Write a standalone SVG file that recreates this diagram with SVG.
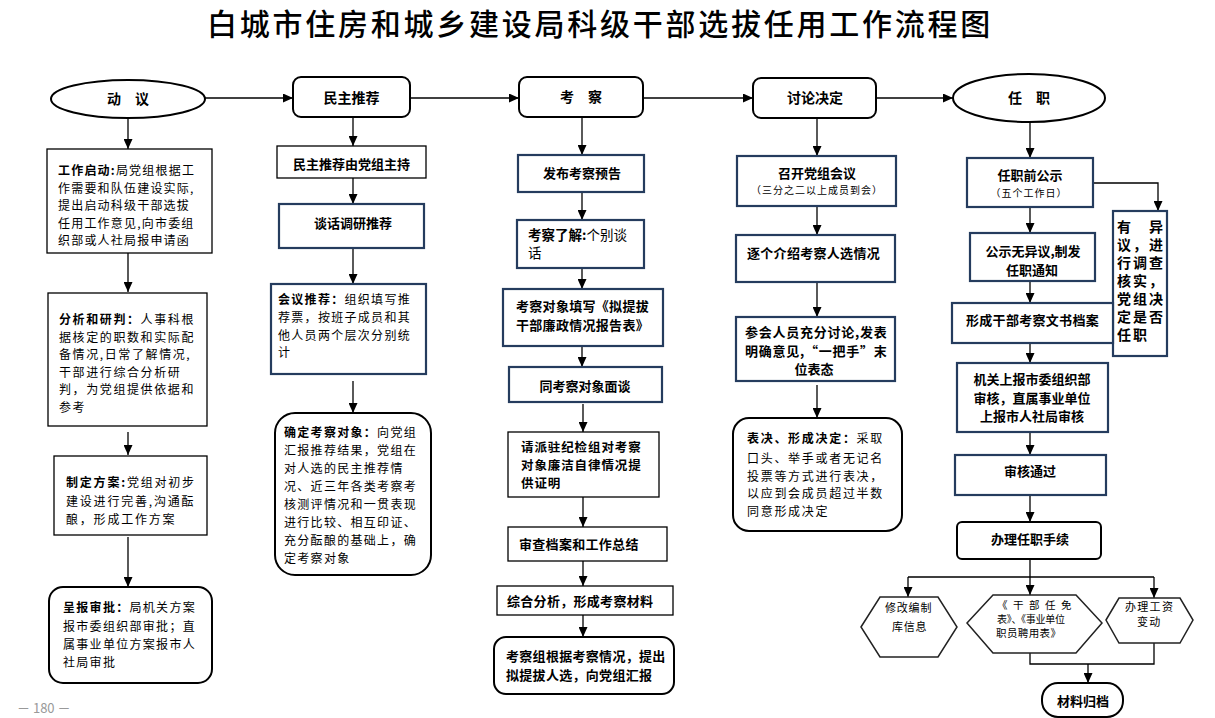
<svg xmlns="http://www.w3.org/2000/svg" width="1215" height="718" viewBox="0 0 1215 718">
<defs>
<marker id="ah" markerWidth="10" markerHeight="9" refX="10" refY="4.5" orient="auto" markerUnits="userSpaceOnUse"><path d="M0,0 L10,4.5 L0,9 z" fill="#000"/></marker>
<style>
text{font-family:'Noto Sans CJK SC','Noto Sans',sans-serif;fill:#000}
.title{font-size:30px;font-weight:500;letter-spacing:2.75px}
.h{font-size:14px;font-weight:700;text-anchor:middle}
.b{font-size:13px;font-weight:700;letter-spacing:0.3px}
.bc{font-size:13px;font-weight:700;text-anchor:middle}
.t{font-size:12px}
.s{font-size:10px;letter-spacing:1px;text-anchor:middle}
.bold{font-weight:700}
.thin{fill:#fff;stroke:#000;stroke-width:1.3}
.navy{fill:#fff;stroke:#253c5e;stroke-width:2.2}
.rnd{fill:#fff;stroke:#000;stroke-width:2}
.hex{fill:#fff;stroke:#222;stroke-width:1.5}
.con{fill:none;stroke:#000;stroke-width:1.3}
.arr{fill:none;stroke:#000;stroke-width:1.3;marker-end:url(#ah)}
</style>
</defs>
<rect width="1215" height="718" fill="#fff"/>
<text class="title" x="207" y="35">白城市住房和城乡建设局科级干部选拔任用工作流程图</text>

<g id="connectors">
<path class="arr" d="M205,98 H293"/>
<path class="arr" d="M410,98 H519"/>
<path class="arr" d="M643,98 H753"/>
<path class="arr" d="M876,98 H953"/>
<path class="arr" d="M128,118 V149"/>
<path class="arr" d="M128,253 V292"/>
<path class="arr" d="M128,432 V455"/>
<path class="arr" d="M128,537 V587"/>
<path class="arr" d="M353,117 V146"/>
<path class="arr" d="M353,178 V204"/>
<path class="arr" d="M353,248 V284"/>
<path class="arr" d="M353,381 V413"/>
<path class="arr" d="M582,117 V155"/>
<path class="arr" d="M582,192 V220"/>
<path class="arr" d="M582,268 V289"/>
<path class="arr" d="M582,346 V367"/>
<path class="arr" d="M583,404 V432"/>
<path class="arr" d="M583,497 V527"/>
<path class="arr" d="M583,561 V586"/>
<path class="arr" d="M583,615 V637"/>
<path class="arr" d="M817,118 V156"/>
<path class="arr" d="M817,206 V235"/>
<path class="arr" d="M817,282 V317"/>
<path class="arr" d="M817,385 V418"/>
<path class="arr" d="M1030,122 V158"/>
<path class="arr" d="M1093,183 H1158 V211"/>
<path class="arr" d="M1030,207 V233"/>
<path class="arr" d="M1030,281 V303"/>
<path class="arr" d="M1030,343 V363"/>
<path class="arr" d="M1030,432 V455"/>
<path class="arr" d="M1030,495 V522"/>
<path class="con" d="M1030,559 V577 M908,577 H1154"/>
<path class="arr" d="M908,577 V597"/>
<path class="arr" d="M1030,577 V595"/>
<path class="arr" d="M1154,577 V598"/>
<path class="con" d="M1030,653 V664 H1154 V643"/>
<path class="arr" d="M1088,664 V683"/>
</g>

<g id="n-dongyi"><ellipse cx="128" cy="99" rx="77" ry="19" class="rnd"/><text class="h" x="128" y="104">动　议</text></g>
<g id="n-minzhu"><rect x="293" y="77" width="117" height="40" rx="8" class="rnd"/><text class="h" x="351.5" y="103">民主推荐</text></g>
<g id="n-kaocha"><rect x="519" y="77" width="124" height="40" rx="8" class="rnd"/><text class="h" x="581" y="102">考　察</text></g>
<g id="n-taolun"><rect x="753" y="78" width="123" height="40" rx="8" class="rnd"/><text class="h" x="815" y="103">讨论决定</text></g>
<g id="n-renzhi"><ellipse cx="1029" cy="98" rx="76" ry="24" class="rnd"/><text class="h" x="1029" y="103">任　职</text></g>

<g id="n-c1-1"><rect x="47" y="149" width="165" height="104" class="thin"/>
<text class="t" x="58" style="letter-spacing:1.2px"><tspan y="175"><tspan class="bold">工作启动:</tspan>局党组根据工</tspan><tspan x="58" y="192.5">作需要和队伍建设实际,</tspan><tspan x="58" y="210">提出启动科级干部选拔</tspan><tspan x="58" y="227.5">任用工作意见,向市委组</tspan><tspan x="58" y="245">织部或人社局报申请函</tspan></text></g>

<g id="n-c1-2"><rect x="48" y="293" width="159" height="133" class="thin"/>
<text class="t" x="59" style="letter-spacing:1.6px"><tspan y="324"><tspan class="bold">分析和研判：</tspan>人事科根</tspan><tspan x="59" y="342">据核定的职数和实际配</tspan><tspan x="59" y="359">备情况,日常了解情况,</tspan><tspan x="59" y="377">干部进行综合分析研</tspan><tspan x="59" y="394">判，为党组提供依据和</tspan><tspan x="59" y="412">参考</tspan></text></g>

<g id="n-c1-3"><rect x="54" y="456" width="153" height="79" class="thin"/>
<text class="t" x="66" style="letter-spacing:1.8px"><tspan y="487"><tspan class="bold">制定方案:</tspan>党组对初步</tspan><tspan x="66" y="506">建设进行完善,沟通酝</tspan><tspan x="66" y="524">酿，形成工作方案</tspan></text></g>

<g id="n-c1-4"><rect x="49" y="587" width="163" height="96" rx="14" class="rnd"/>
<text class="t" x="63" style="letter-spacing:1.3px"><tspan y="612"><tspan class="bold">呈报审批：</tspan>局机关方案</tspan><tspan x="63" y="631">报市委组织部审批；直</tspan><tspan x="63" y="649">属事业单位方案报市人</tspan><tspan x="63" y="667">社局审批</tspan></text></g>

<g id="n-c2-1"><rect x="277" y="146" width="149" height="32" class="thin"/><text class="bc" x="351.5" y="168.5">民主推荐由党组主持</text></g>
<g id="n-c2-2"><rect x="279" y="204" width="145" height="44" class="navy"/><text class="bc" x="353" y="227.5">谈话调研推荐</text></g>
<g id="n-c2-3"><rect x="271" y="284" width="155" height="90" class="navy"/>
<text class="t" x="278" style="letter-spacing:1.3px"><tspan y="304"><tspan class="bold">会议推荐：</tspan>组织填写推</tspan><tspan x="278" y="322">荐票，按班子成员和其</tspan><tspan x="278" y="340">他人员两个层次分别统</tspan><tspan x="278" y="357">计</tspan></text></g>
<g id="n-c2-4"><rect x="275" y="413" width="156" height="162" rx="20" class="rnd"/>
<text class="t" x="284" style="letter-spacing:1.3px"><tspan y="437"><tspan class="bold">确定考察对象：</tspan>向党组</tspan><tspan x="284" y="455">汇报推荐结果，党组在</tspan><tspan x="284" y="473">对人选的民主推荐情</tspan><tspan x="284" y="491">况、近三年各类考察考</tspan><tspan x="284" y="509">核测评情况和一贯表现</tspan><tspan x="284" y="527">进行比较、相互印证、</tspan><tspan x="284" y="545">充分酝酿的基础上，确</tspan><tspan x="284" y="563">定考察对象</tspan></text></g>

<g id="n-c3-1"><rect x="518" y="155" width="126" height="37" class="navy"/><text class="bc" x="582" y="177.5">发布考察预告</text></g>
<g id="n-c3-2"><rect x="517" y="220" width="127" height="48" class="navy"/>
<text x="528" y="239.5" style="font-size:13.5px"><tspan class="bold">考察了解:</tspan>个别谈</text><text x="528" y="257.5" style="font-size:13.5px">话</text></g>
<g id="n-c3-3"><rect x="503" y="289" width="160" height="57" class="navy"/>
<text class="b" x="516"><tspan y="310.5">考察对象填写《拟提拔</tspan><tspan x="516" y="329.5">干部廉政情况报告表》</tspan></text></g>
<g id="n-c3-4"><rect x="509" y="367" width="153" height="35" class="navy"/><text class="bc" x="585" y="390.5">同考察对象面谈</text></g>
<g id="n-c3-5"><rect x="508" y="432" width="151" height="65" class="thin"/>
<text x="521" style="font-size:12.5px;font-weight:700;letter-spacing:0.9px"><tspan y="452">请派驻纪检组对考察</tspan><tspan x="521" y="470">对象廉洁自律情况提</tspan><tspan x="521" y="488">供证明</tspan></text></g>
<g id="n-c3-6"><rect x="508" y="527" width="159" height="34" class="thin"/><text class="b" x="519" y="548.5">审查档案和工作总结</text></g>
<g id="n-c3-7"><rect x="497" y="586" width="176" height="29" class="thin"/><text class="b" x="507" y="605.5">综合分析，形成考察材料</text></g>
<g id="n-c3-8"><rect x="494" y="637" width="180" height="57" rx="12" class="rnd"/>
<text class="b" x="506"><tspan y="661">考察组根据考察情况，提出</tspan><tspan x="506" y="680">拟提拔人选，向党组汇报</tspan></text></g>

<g id="n-c4-1"><rect x="737" y="156" width="159" height="50" class="navy"/><text class="bc" x="817" y="177.5">召开党组会议</text><text class="s" x="817" y="194">（三分之二以上成员到会）</text></g>
<g id="n-c4-2"><rect x="736" y="235" width="159" height="47" class="navy"/><text class="b" x="747" y="257.5">逐个介绍考察人选情况</text></g>
<g id="n-c4-3"><rect x="736" y="317" width="159" height="64" class="navy"/>
<text class="b" x="745" y="336.5" textLength="142" lengthAdjust="spacing">参会人员充分讨论,发表</text>
<text class="b" x="745" y="355.5" textLength="142" lengthAdjust="spacing">明确意见,“一把手”末</text>
<text class="bc" x="814" y="374">位表态</text></g>
<g id="n-c4-4"><rect x="733" y="418" width="169" height="113" rx="16" class="rnd"/>
<text class="t" x="747" style="letter-spacing:1.7px"><tspan y="443"><tspan class="bold">表决、形成决定：</tspan>采取</tspan><tspan x="747" y="463">口头、举手或者无记名</tspan><tspan x="747" y="481">投票等方式进行表决，</tspan><tspan x="747" y="498">以应到会成员超过半数</tspan><tspan x="747" y="516">同意形成决定</tspan></text></g>

<g id="n-c5-1"><rect x="967" y="158" width="126" height="49" class="navy"/><text class="bc" x="1030" y="179.5">任职前公示</text><text class="s" x="1029" y="197">（五个工作日）</text></g>
<g id="n-c5-yiyi"><rect x="1113" y="211" width="54" height="145" class="navy"/>
<text x="1117" style="font-size:14px;font-weight:700;letter-spacing:2px"><tspan y="232">有　异</tspan><tspan x="1117" y="250">议，进</tspan><tspan x="1117" y="268">行调查</tspan><tspan x="1117" y="286">核实，</tspan><tspan x="1117" y="304">党组决</tspan><tspan x="1117" y="322">定是否</tspan><tspan x="1117" y="340">任职</tspan></text></g>
<g id="n-c5-2"><rect x="970" y="233" width="125" height="48" class="navy"/><text class="bc" x="1033" y="256">公示无异议,制发</text><text class="bc" x="1032" y="275">任职通知</text></g>
<g id="n-c5-3"><rect x="952" y="303" width="161" height="40" class="navy"/><text class="b" x="966" y="324.5">形成干部考察文书档案</text></g>
<g id="n-c5-4"><rect x="957" y="363" width="151" height="69" class="navy"/><text class="bc" x="1032" y="384">机关上报市委组织部</text><text class="bc" x="1032" y="402.5">审核，直属事业单位</text><text class="bc" x="1032" y="421">上报市人社局审核</text></g>
<g id="n-c5-5"><rect x="955" y="455" width="151" height="40" class="navy"/><text class="bc" x="1030" y="475.5">审核通过</text></g>
<g id="n-c5-6"><rect x="957" y="522" width="144" height="37" rx="5" class="rnd"/><text class="bc" x="1030" y="543.5">办理任职手续</text></g>
<g id="n-hex1"><polygon class="hex" points="861,627 880,597 938,597 957,627 938,657 880,657"/>
<text x="885" y="612" style="font-size:11px;letter-spacing:0.8px">修改编制</text><text x="892" y="631" style="font-size:11px;letter-spacing:0.8px">库信息</text></g>
<g id="n-hex2"><polygon class="hex" points="967,623 993,595 1076,595 1102,623 1076,653 993,653"/>
<text x="997" y="609" style="font-size:10.5px;letter-spacing:5.5px">《干部任免</text>
<text x="997" y="623" style="font-size:10px;letter-spacing:-0.3px">表》、《事业单位</text>
<text x="996" y="637" style="font-size:10.5px;letter-spacing:0.4px">职员聘用表》</text></g>
<g id="n-hex3"><polygon class="hex" points="1106,620 1119,598 1180,598 1193,620 1180,643 1119,643"/>
<text x="1125" y="611" style="font-size:11px;letter-spacing:1.3px">办理工资</text><text x="1137" y="626" style="font-size:11px;letter-spacing:1.3px">变动</text></g>
<g id="n-guidang"><rect x="1042" y="683" width="81" height="34" rx="16" class="rnd"/><text class="bc" x="1083" y="705.5">材料归档</text></g>

<text x="17" y="713" style="font-size:13px;fill:#999">－ 180 －</text>
</svg>
